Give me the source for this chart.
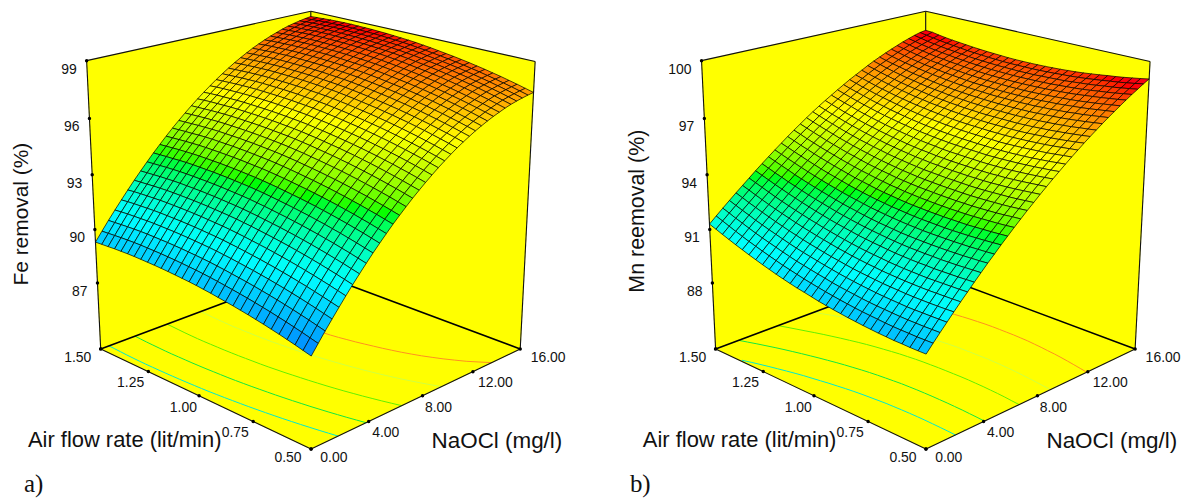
import numpy as np, pandas as pd, altair as alt
alt.data_transformers.disable_max_rows()

# removal (%) x 100: one row per air flow step (0.5 to 1.5), one column per NaOCl step (0 to 16)
FE_REMOVAL_X100 = [
[8800,8849,8897,8943,8988,9032,9075,9116,9156,9195,9232,9268,9303,9336,9368,9399,9428,9456,9483,9509,9533,9556,9578,9598,9617,9635,9651,9666,9680,9692,9704,9714,9722,9729,9735,9740],
[8811,8860,8908,8954,8999,9043,9086,9127,9167,9206,9243,9279,9314,9347,9379,9410,9439,9467,9494,9520,9544,9567,9589,9609,9628,9646,9662,9677,9691,9703,9715,9725,9733,9740,9746,9751],
[8822,8871,8919,8965,9010,9054,9097,9138,9178,9217,9254,9290,9325,9358,9390,9421,9450,9478,9505,9531,9555,9578,9600,9620,9639,9657,9673,9688,9702,9714,9726,9736,9744,9751,9757,9762],
[8832,8881,8929,8975,9020,9064,9107,9148,9188,9227,9264,9300,9335,9368,9400,9431,9460,9488,9515,9541,9565,9588,9610,9630,9649,9667,9683,9698,9712,9724,9736,9746,9754,9761,9767,9772],
[8842,8891,8939,8985,9030,9074,9117,9158,9198,9237,9274,9310,9345,9378,9410,9441,9470,9498,9525,9551,9575,9598,9620,9640,9659,9677,9693,9708,9722,9734,9746,9756,9764,9771,9777,9782],
[8851,8900,8948,8994,9039,9083,9126,9167,9207,9246,9283,9319,9354,9387,9419,9450,9479,9507,9534,9560,9584,9607,9629,9649,9668,9686,9702,9717,9731,9743,9755,9765,9773,9780,9786,9791],
[8860,8909,8957,9003,9048,9092,9135,9176,9216,9255,9292,9328,9363,9396,9428,9459,9488,9516,9543,9569,9593,9616,9638,9658,9677,9695,9711,9726,9740,9752,9764,9774,9782,9789,9795,9800],
[8868,8917,8965,9011,9056,9100,9143,9184,9224,9263,9300,9336,9371,9404,9436,9467,9496,9524,9551,9577,9601,9624,9646,9666,9685,9703,9719,9734,9748,9760,9772,9782,9790,9797,9803,9808],
[8876,8925,8973,9019,9064,9108,9151,9192,9232,9271,9308,9344,9379,9412,9444,9475,9504,9532,9559,9585,9609,9632,9654,9674,9693,9711,9727,9742,9756,9768,9780,9790,9798,9805,9811,9816],
[8883,8932,8980,9026,9071,9115,9158,9199,9239,9278,9315,9351,9386,9419,9451,9482,9511,9539,9566,9592,9616,9639,9661,9681,9700,9718,9734,9749,9763,9775,9787,9797,9805,9812,9818,9823],
[8890,8939,8987,9033,9078,9122,9165,9206,9246,9285,9322,9358,9393,9426,9458,9489,9518,9546,9573,9599,9623,9646,9668,9688,9707,9725,9741,9756,9770,9782,9794,9804,9812,9819,9825,9830],
[8896,8945,8993,9039,9084,9128,9171,9212,9252,9291,9328,9364,9399,9432,9464,9495,9524,9552,9579,9605,9629,9652,9674,9694,9713,9731,9747,9762,9776,9788,9800,9810,9818,9825,9831,9836],
[8902,8951,8999,9045,9090,9134,9177,9218,9258,9297,9334,9370,9405,9438,9470,9501,9530,9558,9585,9611,9635,9658,9680,9700,9719,9737,9753,9768,9782,9794,9806,9816,9824,9831,9837,9842],
[8908,8957,9005,9051,9096,9140,9183,9224,9264,9303,9340,9376,9411,9444,9476,9507,9536,9564,9591,9617,9641,9664,9686,9706,9725,9743,9759,9774,9788,9800,9812,9822,9830,9837,9843,9848],
[8913,8962,9010,9056,9101,9145,9188,9229,9269,9308,9345,9381,9416,9449,9481,9512,9541,9569,9596,9622,9646,9669,9691,9711,9730,9748,9764,9779,9793,9805,9817,9827,9835,9842,9848,9853],
[8918,8967,9015,9061,9106,9150,9193,9234,9274,9313,9350,9386,9421,9454,9486,9517,9546,9574,9601,9627,9651,9674,9696,9716,9735,9753,9769,9784,9798,9810,9822,9832,9840,9847,9853,9858],
[8922,8971,9019,9065,9110,9154,9197,9238,9278,9317,9354,9390,9425,9458,9490,9521,9550,9578,9605,9631,9655,9678,9700,9720,9739,9757,9773,9788,9802,9814,9826,9836,9844,9851,9857,9862],
[8925,8974,9022,9068,9113,9157,9200,9241,9281,9320,9357,9393,9428,9461,9493,9524,9553,9581,9608,9634,9658,9681,9703,9723,9742,9760,9776,9791,9805,9817,9829,9839,9847,9854,9860,9865],
[8928,8977,9025,9071,9116,9160,9203,9244,9284,9323,9360,9396,9431,9464,9496,9527,9556,9584,9611,9637,9661,9684,9706,9726,9745,9763,9779,9794,9808,9820,9832,9842,9850,9857,9863,9868],
[8931,8980,9028,9074,9119,9163,9206,9247,9287,9326,9363,9399,9434,9467,9499,9530,9559,9587,9614,9640,9664,9687,9709,9729,9748,9766,9782,9797,9811,9823,9835,9845,9853,9860,9866,9871],
[8933,8982,9030,9076,9121,9165,9208,9249,9289,9328,9365,9401,9436,9469,9501,9532,9561,9589,9616,9642,9666,9689,9711,9731,9750,9768,9784,9799,9813,9825,9837,9847,9855,9862,9868,9873],
[8935,8984,9032,9078,9123,9167,9210,9251,9291,9330,9367,9403,9438,9471,9503,9534,9563,9591,9618,9644,9668,9691,9713,9733,9752,9770,9786,9801,9815,9827,9839,9849,9857,9864,9870,9875],
[8936,8985,9033,9079,9124,9168,9211,9252,9292,9331,9368,9404,9439,9472,9504,9535,9564,9592,9619,9645,9669,9692,9714,9734,9753,9771,9787,9802,9816,9828,9840,9850,9858,9865,9871,9876],
[8937,8986,9034,9080,9125,9169,9212,9253,9293,9332,9369,9405,9440,9473,9505,9536,9565,9593,9620,9646,9670,9693,9715,9735,9754,9772,9788,9803,9817,9829,9841,9851,9859,9866,9872,9877],
[8938,8987,9035,9081,9126,9170,9213,9254,9294,9333,9370,9406,9441,9474,9506,9537,9566,9594,9621,9647,9671,9694,9716,9736,9755,9773,9789,9804,9818,9830,9842,9852,9860,9867,9873,9878],
[8938,8987,9035,9081,9126,9170,9213,9254,9294,9333,9370,9406,9441,9474,9506,9537,9566,9594,9621,9647,9671,9694,9716,9736,9755,9773,9789,9804,9818,9830,9842,9852,9860,9867,9873,9878],
[8937,8986,9034,9080,9125,9169,9212,9253,9293,9332,9369,9405,9440,9473,9505,9536,9565,9593,9620,9646,9670,9693,9715,9735,9754,9772,9788,9803,9817,9829,9841,9851,9859,9866,9872,9877],
[8936,8985,9033,9079,9124,9168,9211,9252,9292,9330,9368,9404,9438,9472,9504,9535,9564,9592,9619,9645,9669,9692,9714,9734,9753,9771,9787,9802,9816,9828,9840,9849,9858,9865,9871,9876],
[8934,8983,9031,9078,9123,9167,9209,9250,9290,9329,9366,9402,9437,9470,9502,9533,9563,9591,9618,9643,9667,9690,9712,9732,9751,9769,9786,9801,9814,9827,9838,9848,9857,9864,9870,9874],
[8932,8981,9029,9076,9121,9165,9207,9248,9288,9327,9364,9400,9435,9468,9500,9531,9561,9589,9616,9641,9665,9688,9710,9730,9749,9767,9784,9799,9812,9825,9836,9846,9855,9862,9868,9872],
[8930,8979,9027,9073,9118,9162,9205,9246,9286,9325,9362,9398,9433,9466,9498,9529,9558,9586,9613,9639,9663,9686,9708,9728,9747,9765,9781,9796,9810,9822,9834,9844,9852,9859,9865,9870],
]
MN_REMOVAL_X100 = [
[8910,8950,8989,9027,9065,9102,9138,9174,9209,9244,9277,9311,9343,9375,9406,9437,9466,9496,9524,9552,9579,9606,9632,9657,9682,9706,9729,9752,9774,9795,9816,9836,9856,9874,9893,9910],
[8909,8949,8988,9026,9063,9100,9136,9172,9207,9241,9274,9308,9340,9371,9403,9433,9462,9492,9520,9547,9574,9601,9627,9652,9676,9700,9723,9746,9768,9789,9809,9829,9849,9867,9885,9902],
[8909,8948,8987,9025,9062,9099,9135,9170,9205,9239,9272,9305,9337,9368,9399,9429,9458,9488,9516,9543,9570,9596,9622,9647,9671,9695,9718,9740,9762,9783,9803,9823,9842,9860,9878,9895],
[8910,8949,8987,9025,9061,9098,9134,9169,9203,9237,9270,9303,9335,9366,9396,9426,9455,9484,9512,9539,9566,9592,9617,9642,9666,9690,9712,9735,9756,9777,9797,9817,9836,9854,9871,9888],
[8910,8949,8987,9024,9061,9097,9133,9168,9202,9236,9269,9301,9333,9364,9394,9424,9453,9481,9509,9536,9563,9588,9614,9638,9662,9686,9708,9730,9752,9772,9792,9812,9831,9849,9866,9882],
[8912,8950,8988,9024,9061,9097,9132,9167,9201,9235,9268,9300,9331,9362,9392,9422,9451,9479,9506,9533,9560,9585,9611,9635,9659,9682,9704,9726,9747,9768,9787,9807,9825,9843,9860,9877],
[8914,8952,8990,9026,9062,9098,9133,9168,9202,9235,9268,9299,9331,9361,9391,9421,9449,9477,9505,9531,9558,9583,9608,9632,9656,9679,9701,9723,9744,9764,9783,9802,9820,9838,9855,9871],
[8917,8955,8992,9028,9064,9099,9134,9168,9202,9235,9268,9299,9331,9361,9391,9420,9448,9476,9503,9530,9556,9581,9606,9630,9653,9676,9698,9720,9740,9760,9780,9798,9816,9834,9850,9866],
[8920,8958,8994,9030,9066,9101,9135,9169,9203,9236,9268,9300,9331,9361,9391,9420,9448,9476,9503,9529,9555,9580,9604,9628,9651,9674,9696,9717,9738,9758,9777,9795,9813,9830,9846,9861],
[8924,8961,8997,9033,9068,9103,9137,9171,9204,9237,9269,9301,9332,9362,9392,9421,9449,9476,9503,9529,9554,9579,9603,9627,9650,9672,9694,9715,9735,9755,9774,9792,9810,9826,9842,9857],
[8928,8965,9001,9037,9072,9106,9140,9173,9206,9239,9271,9302,9333,9363,9393,9422,9450,9477,9504,9530,9555,9580,9604,9627,9650,9672,9693,9714,9734,9753,9772,9790,9807,9824,9840,9854],
[8933,8970,9006,9041,9076,9110,9144,9177,9209,9241,9273,9304,9335,9365,9395,9423,9451,9478,9505,9531,9556,9580,9604,9627,9650,9672,9693,9713,9733,9752,9770,9788,9805,9822,9837,9851],
[8938,8975,9011,9046,9080,9114,9148,9181,9213,9245,9276,9307,9337,9367,9397,9425,9453,9480,9506,9532,9557,9581,9605,9628,9650,9672,9693,9713,9733,9751,9769,9787,9804,9820,9835,9849],
[8944,8981,9016,9051,9085,9119,9152,9185,9217,9249,9280,9311,9340,9370,9399,9427,9455,9482,9508,9533,9558,9582,9606,9629,9651,9672,9693,9713,9733,9751,9769,9786,9803,9818,9833,9847],
[8950,8987,9022,9057,9091,9124,9157,9190,9222,9253,9284,9314,9344,9373,9402,9430,9457,9484,9510,9535,9560,9584,9607,9630,9652,9673,9694,9714,9733,9751,9769,9786,9802,9818,9832,9846],
[8958,8994,9030,9064,9098,9131,9163,9195,9227,9258,9289,9319,9349,9378,9406,9434,9461,9488,9514,9539,9563,9587,9610,9632,9654,9675,9696,9715,9734,9752,9770,9786,9802,9817,9832,9845],
[8966,9001,9037,9071,9104,9137,9170,9202,9233,9264,9294,9324,9353,9382,9410,9438,9465,9491,9517,9542,9566,9589,9612,9634,9656,9677,9697,9717,9736,9754,9771,9787,9803,9818,9832,9845],
[8973,9009,9045,9079,9112,9145,9177,9209,9240,9271,9301,9330,9359,9388,9416,9443,9470,9496,9521,9546,9570,9593,9616,9638,9659,9680,9700,9719,9738,9755,9772,9788,9804,9819,9832,9845],
[8982,9018,9053,9087,9120,9153,9185,9216,9247,9278,9308,9337,9366,9394,9422,9449,9475,9501,9526,9551,9574,9597,9620,9642,9663,9683,9703,9722,9740,9757,9774,9790,9805,9820,9833,9846],
[8991,9027,9061,9095,9128,9161,9193,9224,9255,9285,9315,9344,9373,9401,9428,9455,9481,9507,9532,9556,9579,9602,9624,9646,9667,9687,9706,9725,9743,9760,9777,9792,9807,9822,9835,9848],
[9001,9036,9071,9104,9137,9170,9202,9233,9264,9294,9323,9352,9380,9408,9435,9462,9488,9513,9538,9562,9585,9607,9629,9651,9671,9691,9711,9729,9747,9764,9780,9795,9810,9824,9837,9850],
[9012,9047,9081,9114,9147,9179,9211,9242,9273,9303,9332,9361,9389,9416,9443,9470,9495,9520,9545,9568,9591,9613,9635,9656,9677,9696,9715,9733,9751,9768,9784,9799,9813,9827,9840,9852],
[9023,9058,9092,9125,9157,9189,9221,9252,9282,9312,9341,9370,9398,9425,9452,9478,9503,9528,9552,9575,9598,9620,9641,9662,9682,9702,9720,9738,9756,9772,9788,9803,9817,9830,9843,9855],
[9035,9069,9103,9136,9168,9200,9231,9262,9292,9322,9351,9379,9407,9434,9460,9486,9511,9536,9560,9583,9605,9627,9648,9669,9689,9708,9726,9744,9761,9777,9793,9807,9821,9834,9846,9858],
[9047,9081,9114,9147,9179,9211,9242,9273,9303,9332,9361,9389,9417,9444,9470,9496,9520,9545,9568,9591,9613,9635,9656,9676,9696,9714,9733,9750,9767,9783,9798,9812,9826,9839,9851,9862],
[9060,9093,9126,9159,9191,9222,9253,9284,9314,9343,9372,9400,9427,9454,9480,9505,9530,9554,9577,9600,9622,9643,9664,9684,9703,9721,9739,9756,9773,9788,9803,9817,9831,9843,9855,9866],
[9073,9106,9139,9171,9203,9234,9265,9296,9325,9354,9383,9411,9438,9464,9490,9516,9540,9564,9587,9609,9631,9652,9672,9692,9711,9729,9747,9764,9780,9795,9809,9823,9836,9848,9860,9870],
[9087,9120,9153,9185,9216,9247,9278,9308,9338,9367,9395,9423,9450,9476,9502,9527,9551,9575,9597,9620,9641,9662,9682,9701,9720,9738,9755,9772,9787,9802,9816,9830,9842,9854,9865,9875],
[9101,9134,9166,9198,9229,9260,9291,9321,9350,9379,9407,9435,9461,9487,9513,9538,9562,9585,9608,9630,9651,9672,9691,9711,9729,9747,9764,9780,9795,9810,9824,9837,9849,9860,9871,9881],
[9116,9149,9181,9212,9243,9274,9304,9334,9363,9391,9419,9447,9474,9500,9525,9550,9574,9597,9619,9641,9662,9682,9702,9721,9739,9757,9774,9789,9804,9819,9832,9845,9857,9868,9878,9888],
[9130,9163,9195,9226,9257,9287,9317,9347,9376,9404,9432,9459,9486,9512,9537,9562,9586,9609,9631,9652,9673,9693,9713,9731,9749,9767,9784,9799,9814,9828,9841,9854,9865,9876,9885,9890],
]
TICK_NAOCL=[0,4,8,12,16]; TICK_AIR=[0.5,0.75,1.0,1.25,1.5]
FE_TICKS=[99,96,93,90,87]; MN_TICKS=[100,97,94,91,88]
FE_LEVELS=[89.9,91.7,93.7,95.5,97.0]; MN_LEVELS=[90.8,92.4,94.2,95.7,97.3]
CONTOUR_COLOURS=['#00e8d0','#10e840','#60f000','#d0ff40','#ff9020']
STOPS=['#0080ff','#00ffff','#00ff00','#ffff00','#ff0000']
FLOOR_LABELS=[(78,357,'1.50'),(131,382,'1.25'),(184,408,'1.00'),(236,433,'0.75'),(289,458,'0.50'),
              (335,458,'0.00'),(387,433,'4.00'),(440,408,'8.00'),(497,382,'12.00'),(550,357,'16.00')]

# Box corners on the page define the perspective camera
CORNERS = [((0,0,0),(312,449)),((0,1,0),(101,348)),((1,0,0),(522,348)),((1,1,0),(311.5,270)),
           ((0,1,1),(87,59)),((1,0,1),(537,60)),((1,1,1),(311.7,9.3))]
A=[]
for (u,v,w),(x,y) in CORNERS:
    A.append([u,v,w,1,0,0,0,0,-x*u,-x*v,-x*w,-x])
    A.append([0,0,0,0,u,v,w,1,-y*u,-y*v,-y*w,-y])
P=np.linalg.svd(np.array(A,float))[2][-1].reshape(3,4)
def proj(u,v,w,off):
    h=P@np.array([u,v,w,1.0])
    return h[0]/h[2]+off,h[1]/h[2]

def panel(Z,zmin,zmax,zticks,levels,off,x0,x1,ztitle,tag,tagx,ztx,zty,tsize):
    Z=np.array(Z,float)/100
    NV,NU=Z.shape
    W=lambda z:(z-zmin)/(zmax-zmin)
    X=alt.X('px:Q',scale=alt.Scale(domain=[x0,x1]),axis=None)
    Y=alt.Y('py:Q',scale=alt.Scale(domain=[500,8]),axis=None)
    def poly(pts,name):
        return [dict(px=proj(*p,off)[0],py=proj(*p,off)[1],k=i,g=name) for i,p in enumerate(pts)]
    walls=poly([(0,1,0),(1,1,0),(1,1,1),(0,1,1)],'l')+poly([(1,0,0),(1,1,0),(1,1,1),(1,0,1)],'r')+poly([(0,0,0),(1,0,0),(1,1,0),(0,1,0)],'f')
    lay=[alt.Chart(pd.DataFrame(walls)).mark_line(interpolate='linear-closed',fill='#ffff00',stroke='#ffff00',strokeWidth=0.5).encode(x=X,y=Y,order='k:Q',detail='g:N')]
    cont=[]
    for li,L in enumerate(levels):
        for j in range(NV):
            row=Z[j]; im=int(np.argmax(row))
            if L<row[0] or L>row[im]: continue
            u=np.interp(L,row[:im+1],np.arange(im+1)/(NU-1))
            x,y=proj(u,j/(NV-1),0,off)
            cont.append(dict(px=x,py=y,k=j,g=str(li),c=CONTOUR_COLOURS[li]))
    lay.append(alt.Chart(pd.DataFrame(cont)).mark_line(strokeWidth=1).encode(x=X,y=Y,order='k:Q',detail='g:N',color=alt.Color('c:N',scale=None)))
    def seg(a,b,name):
        return poly([a,b],name)
    thin=seg((0,1,1),(1,1,1),'a')+seg((1,1,1),(1,0,1),'b')+seg((0,1,0),(0,1,1),'c')+seg((1,0,0),(1,0,1),'d')+seg((1,1,0),(1,1,1),'e')+seg((0,1,0),(0,0,0),'h')+seg((0,0,0),(1,0,0),'i')
    thick=seg((0,1,0),(1,1,0),'f')+seg((1,0,0),(1,1,0),'g')
    lay.append(alt.Chart(pd.DataFrame(thin)).mark_line(stroke='#111111',strokeWidth=1.1).encode(x=X,y=Y,order='k:Q',detail='g:N'))
    lay.append(alt.Chart(pd.DataFrame(thick)).mark_line(stroke='#000000',strokeWidth=1.6).encode(x=X,y=Y,order='k:Q',detail='g:N'))
    dots=[]
    for n in TICK_NAOCL:
        x,y=proj(n/16,0,0,off); dots.append(dict(px=x,py=y))
    for a in TICK_AIR:
        x,y=proj(0,a-0.5,0,off); dots.append(dict(px=x,py=y))
    for z in zticks:
        x,y=proj(0,1,W(z),off); dots.append(dict(px=x,py=y))
    x,y=proj(0,1,0,off); dots.append(dict(px=x,py=y))
    lay.append(alt.Chart(pd.DataFrame(dots)).mark_circle(color='black',size=12,opacity=1).encode(x=X,y=Y))
    cells=[]
    for j in range(NV-2,-1,-1):
        for i in range(NU-2,-1,-1):
            zc=(Z[j,i]+Z[j,i+1]+Z[j+1,i]+Z[j+1,i+1])/4
            for k,(a,b) in enumerate([(i,j),(i+1,j),(i+1,j+1),(i,j+1)]):
                x,y=proj(a/(NU-1),b/(NV-1),W(Z[b,a]),off)
                cells.append(dict(px=round(x,2),py=round(y,2),k=k,g=j*100+i,z=round(zc,2)))
    zl,zh=Z.min(),Z.max()-0.4
    dom=[zl+(zh-zl)*t for t in (0,.25,.5,.75,1)]
    lay.append(alt.Chart(pd.DataFrame(cells)).mark_line(interpolate='linear-closed',stroke='#000000',strokeWidth=0.7).encode(
        x=X,y=Y,order='k:Q',detail='g:N',fill=alt.Fill('z:Q',scale=alt.Scale(domain=dom,range=STOPS),legend=None)))
    def text(rows,size,font='Liberation Sans',align='center',angle=0):
        return alt.Chart(pd.DataFrame(rows)).mark_text(fontSize=size,font=font,align=align,baseline='middle',angle=angle,color='#111111').encode(x=X,y=Y,text='t:N')
    zr=[]
    for z in zticks:
        x,y=proj(0,1,W(z),off); zr.append(dict(px=x-10,py=y+9,t=str(z)))
    lay.append(text(zr,14,align='right'))
    fl=[dict(px=o+off,py=p,t=t) for o,p,t in FLOOR_LABELS]
    lay.append(text(fl,14))
    lay.append(text([dict(px=28+off,py=440,t='Air flow rate (lit/min)')],22,align='left'))
    lay.append(text([dict(px=433+off,py=441,t='NaOCl (mg/l)')],22.5,align='left'))
    lay.append(text([dict(px=ztx,py=zty,t=ztitle)],tsize,angle=270))
    lay.append(text([dict(px=tagx,py=484,t=tag)],25,font='Liberation Serif',align='left'))
    return alt.layer(*lay).properties(width=x1-x0,height=492)

a=panel(FE_REMOVAL_X100,83.2,99,FE_TICKS,FE_LEVELS,0,8,598,'Fe removal (%)','a)',24,22,213,21)
b=panel(MN_REMOVAL_X100,84.2,100,MN_TICKS,MN_LEVELS,617,598,1181,'Mn reemoval (%)','b)',632,640,210,21.5)
chart=alt.hconcat(a,b,spacing=0).properties(padding=0).configure_view(stroke=None)
chart.save("out.html",embed_options={"renderer":"svg","actions":False})
